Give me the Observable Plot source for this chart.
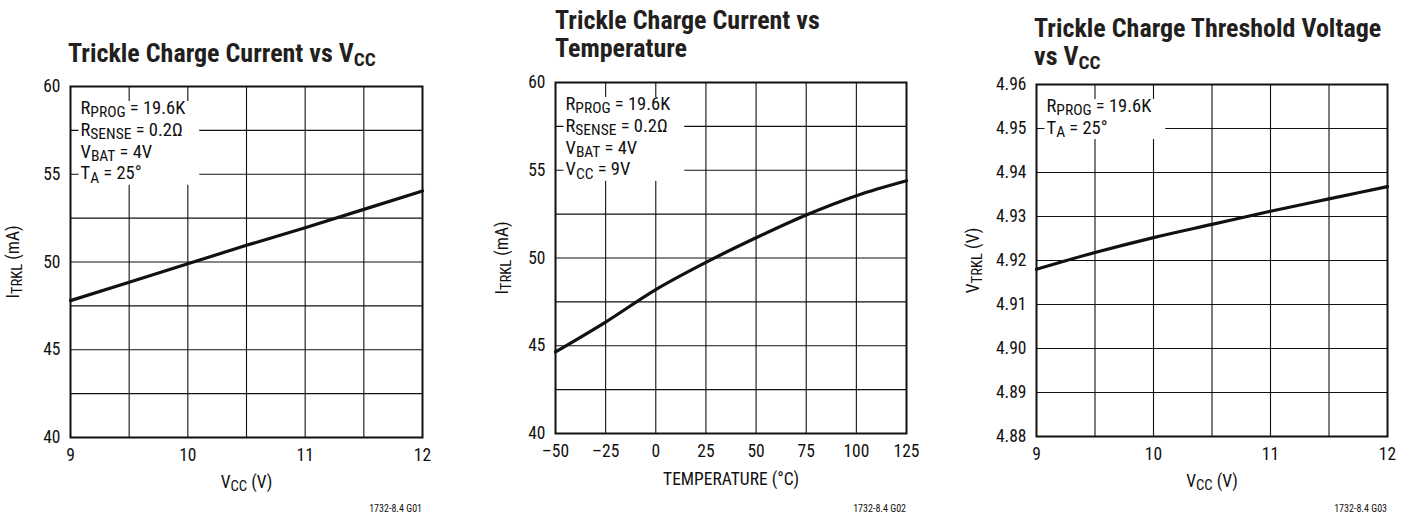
<!DOCTYPE html>
<html>
<head>
<meta charset="utf-8">
<script src="https://cdn.jsdelivr.net/npm/d3@7"></script>
<script src="https://cdn.jsdelivr.net/npm/@observablehq/plot@0.6"></script>
<style>
  html, body { margin: 0; padding: 0; background: #fff; }
  body { width: 1416px; height: 518px; overflow: hidden; position: relative;
         font-family: "Liberation Sans Narrow", "Roboto Condensed", "DejaVu Sans Condensed", sans-serif; color: #111; }
  .panel { position: absolute; top: 0; }
  .title { position: absolute; font-weight: bold; font-size: 26px; line-height: 28px; color: #231f20; white-space: nowrap; }
  .title sub { font-size: 0.74em; vertical-align: -0.22em; line-height: 0; }
  .foot { position: absolute; font-size: 10px; line-height: 12px; white-space: nowrap; text-align: right; }
</style>
</head>
<body>
<div id="p1" class="panel" style="left:0px"></div>
<div id="p2" class="panel" style="left:480px"></div>
<div id="p3" class="panel" style="left:960px"></div>
<div class="title" style="left:68px;top:39px">Trickle Charge Current vs V<sub>CC</sub></div>
<div class="title" style="left:555px;top:6px">Trickle Charge Current vs<br>Temperature</div>
<div class="title" style="left:1034px;top:14px">Trickle Charge Threshold Voltage<br>vs V<sub>CC</sub></div>
<div class="foot" style="right:994px;top:503px">1732-8.4 G01</div>
<div class="foot" style="right:510px;top:503px">1732-8.4 G02</div>
<div class="foot" style="right:29px;top:503px">1732-8.4 G03</div>
<script>
// ---- data ----
const vccA = [9, 9.5, 10, 10.5, 11, 11.5, 12];
const itrklVcc = [47.8, 48.85, 49.9, 50.95, 51.95, 53.0, 54.05];

const tempC = [-50, -25, 0, 25, 50, 75, 100, 125];
const itrklTemp = [44.65, 46.35, 48.2, 49.75, 51.15, 52.45, 53.55, 54.4];

const vccB = [9, 9.5, 10, 10.5, 11, 11.5, 12];
const vtrkl = [4.918, 4.9218, 4.9252, 4.9282, 4.9312, 4.934, 4.9368];

const xTicksVcc = [9, 10, 11, 12];
const xGridVcc = [9.5, 10, 10.5, 11, 11.5];
const yTicksI = [40, 45, 50, 55, 60];
const yGridI = [42.5, 45, 47.5, 50, 52.5, 55, 57.5];
const xTicksT = [-50, -25, 0, 25, 50, 75, 100, 125];
const xGridT = [-25, 0, 25, 50, 75, 100];
const yTicksV = [4.88, 4.89, 4.90, 4.91, 4.92, 4.93, 4.94, 4.95, 4.96];
const yGridV = [4.89, 4.90, 4.91, 4.92, 4.93, 4.94, 4.95];

const note1 = ["R_{PROG} = 19.6K", "R_{SENSE} = 0.2Ω", "V_{BAT} = 4V", "T_{A} = 25°"];
const note2 = ["R_{PROG} = 19.6K", "R_{SENSE} = 0.2Ω", "V_{BAT} = 4V", "V_{CC} = 9V"];
const note3 = ["R_{PROG} = 19.6K", "T_{A} = 25°"];

const FONT = '"Liberation Sans Narrow", "Roboto Condensed", "DejaVu Sans Condensed", sans-serif';
const INK = "#111";

function makeChart(cfg) {
  const data = cfg.xs.map((x, i) => ({x, y: cfg.ys[i]}));
  return Plot.plot({
    width: cfg.width,
    height: 518,
    marginLeft: cfg.ml, marginRight: cfg.mr, marginTop: cfg.mt, marginBottom: cfg.mb,
    style: {fontFamily: FONT, fontSize: "17.5px", color: INK, background: "transparent", overflow: "visible"},
    x: {domain: cfg.xDomain, ticks: cfg.xTicks, tickSize: 0, tickPadding: 11,
        tickFormat: cfg.xFormat || (d => String(d)), label: cfg.xLabel, labelAnchor: "center", labelArrow: false, labelOffset: cfg.xlo},
    y: {domain: cfg.yDomain, ticks: cfg.yTicks, tickSize: 0, tickPadding: 10,
        tickFormat: cfg.yFormat || (d => String(d)), label: cfg.yLabel, labelAnchor: "center", labelArrow: false, labelOffset: cfg.ylo},
    marks: [
      Plot.ruleX(cfg.xGrid, {stroke: INK, strokeWidth: 1.1}),
      Plot.ruleY(cfg.yGrid, {stroke: INK, strokeWidth: 1.1}),
      Plot.text([cfg.note.join("\n")], {text: d => d, frameAnchor: "top-left", textAnchor: "start",
        lineAnchor: "top", dx: 10, dy: 12, fontSize: 18.5, lineHeight: 1.18, fill: INK}),
      Plot.line(data, {x: "x", y: "y", stroke: INK, strokeWidth: 3.2, curve: cfg.curve || "linear"}),
      Plot.frame({stroke: INK, strokeWidth: 2})
    ]
  });
}

const SVGNS = "http://www.w3.org/2000/svg";
function subscripts(root) {
  const els = [...root.querySelectorAll("text, tspan")].filter(e => e.children.length === 0 && e.textContent.includes("_{"));
  for (const el of els) {
    const s = el.textContent;
    const fs = parseFloat(getComputedStyle(el).fontSize) || 17;
    el.textContent = "";
    const re = /_\{([^}]*)\}/g;
    let last = 0, m; const parts = [];
    while ((m = re.exec(s))) { parts.push([s.slice(last, m.index), false]); parts.push([m[1], true]); last = re.lastIndex; }
    parts.push([s.slice(last), false]);
    let shifted = false;
    for (const [t, sub] of parts) {
      if (!t) continue;
      const ts = document.createElementNS(SVGNS, "tspan");
      ts.textContent = t;
      if (sub) { ts.setAttribute("font-size", (fs * 0.84).toFixed(1)); ts.setAttribute("dy", (fs * 0.18).toFixed(1)); shifted = true; }
      else if (shifted) { ts.setAttribute("dy", (-fs * 0.18).toFixed(1)); shifted = false; }
      el.appendChild(ts);
    }
  }
}
function noteBox(svg) {
  const g = svg.querySelector('g[aria-label="text"]');
  if (!g) return;
  const sr = svg.getBoundingClientRect();
  let x0 = Infinity, y0 = Infinity, x1 = -Infinity, y1 = -Infinity;
  for (const t of g.querySelectorAll("tspan")) {
    const r = t.getBoundingClientRect();
    if (!r.width) continue;
    x0 = Math.min(x0, r.left); x1 = Math.max(x1, r.right);
    y0 = Math.min(y0, r.top); y1 = Math.max(y1, r.bottom);
  }
  if (!isFinite(x0)) return;
  const rect = document.createElementNS(SVGNS, "rect");
  rect.setAttribute("x", x0 - sr.left - 2);
  rect.setAttribute("y", y0 - sr.top + 4);
  rect.setAttribute("width", x1 - x0 + 15);
  rect.setAttribute("height", y1 - y0 - 6);
  rect.setAttribute("fill", "white");
  g.parentNode.insertBefore(rect, g);
}

const cfgs = [
  {id: "p1", width: 440, ml: 70, mr: 18, mt: 86, mb: 81, xs: vccA, ys: itrklVcc,
   xDomain: [9, 12], yDomain: [40, 60], xTicks: xTicksVcc, yTicks: yTicksI, xGrid: xGridVcc, yGrid: yGridI,
   xLabel: "V_{CC} (V)", yLabel: "I_{TRKL} (mA)", xlo: 50, ylo: 64, note: note1},
  {id: "p2", width: 440, ml: 75, mr: 14, mt: 82, mb: 85, xs: tempC, ys: itrklTemp, curve: "monotone-x",
   xDomain: [-50, 125], yDomain: [40, 60], xTicks: xTicksT, yTicks: yTicksI, xGrid: xGridT, yGrid: yGridI,
   xFormat: d => d < 0 ? "–" + Math.abs(d) : String(d),
   xLabel: "TEMPERATURE (°C)", yLabel: "I_{TRKL} (mA)", xlo: 51, ylo: 60, note: note2},
  {id: "p3", width: 456, ml: 76, mr: 29, mt: 84, mb: 82, xs: vccB, ys: vtrkl, curve: "monotone-x",
   xDomain: [9, 12], yDomain: [4.88, 4.96], xTicks: xTicksVcc, yTicks: yTicksV, xGrid: xGridVcc, yGrid: yGridV,
   yFormat: d3.format(".2f"),
   xLabel: "V_{CC} (V)", yLabel: "V_{TRKL} (V)", xlo: 50, ylo: 70, note: note3}
];
for (const c of cfgs) {
  const svg = makeChart(c);
  document.getElementById(c.id).appendChild(svg);
  subscripts(svg);
  noteBox(svg);
}
</script>
</body>
</html>
